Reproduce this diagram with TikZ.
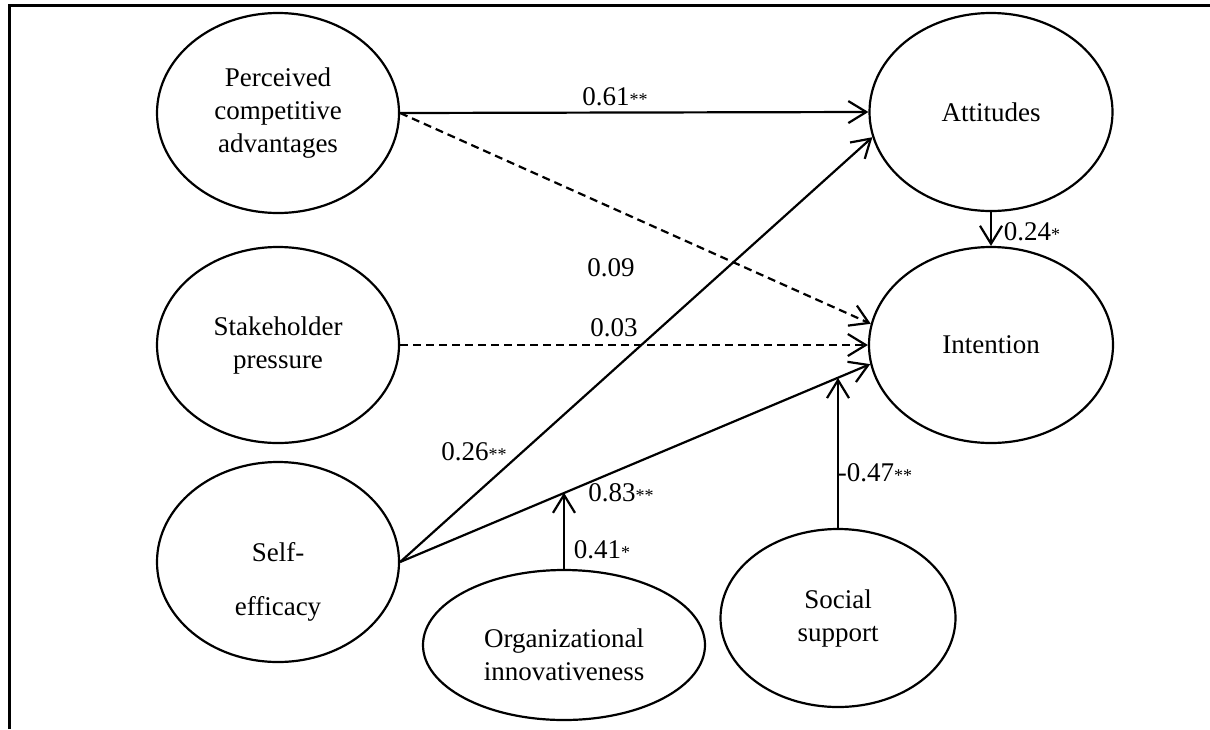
\documentclass[tikz,border=0pt]{standalone}
\usepackage{fontspec}
\setmainfont{Liberation Serif}
\usetikzlibrary{arrows.meta,shapes.geometric,calc}
\newcommand{\sig}[1]{{\fontsize{9}{9}\selectfont #1}}

\begin{document}
\begin{tikzpicture}[x=0.5pt,y=-0.5pt,font=\fontsize{13.5}{16.5}\selectfont]
      \tikzstyle{construct}=[ellipse,draw,line width=1.1pt,inner sep=0pt,align=center]
      \tikzstyle{path arrow}=[line width=1.1pt,-{Straight Barb[length=9pt,width=11pt]}]
      \tikzstyle{weak arrow}=[path arrow,dash pattern=on 4pt off 2.5pt]
      \tikzstyle{coef}=[inner sep=1pt]

      \useasboundingbox (0,0) rectangle (1210,729);
      \draw[line width=1.5pt] (9,729) -- (9,5) -- (1210,5);

      % constructs
      \node(pca)[construct,minimum width=121pt,minimum height=100pt] at (278,113) {Perceived\\competitive\\advantages};
      \node(sp)[construct,minimum width=121pt,minimum height=98pt] at (278,345) {Stakeholder\\pressure};
      \node(se)[construct,minimum width=121pt,minimum height=100pt,
          label={[align=center,yshift=-10pt]center:{Self-\\[10.5pt]efficacy}}] at (278,562) {};
      \node(att)[construct,minimum width=121.5pt,minimum height=99pt] at (991,112) {Attitudes};
      \node(int)[construct,minimum width=122pt,minimum height=98pt] at (991,345) {Intention};
      \node(oi)[construct,minimum width=141pt,minimum height=75pt,
          label={[align=center,yshift=-5pt]center:{Organizational\\innovativeness}}] at (564,645) {};
      \node(ss)[construct,minimum width=117.5pt,minimum height=89pt] at (838,618) {Social\\support};

      % paths
      \draw[path arrow] (pca.east) -- (att.west);
      \draw[weak arrow] (pca.east) -- (int.170);
      \draw[weak arrow] (sp.east) -- (int.west);
      \draw[path arrow] (se.east) -- (att.192);
      \draw[path arrow] (se.east) -- (int.189);
      \draw[path arrow] (att.south) -- (int.north);

      % moderators
      \coordinate (m1) at ($(se.east)!0.35!(int.189)$);
      \coordinate (m2) at ($(se.east)!0.93!(int.189)$);
      \draw[path arrow] (oi.north) -- (oi.north |- m1);
      \draw[path arrow] (ss.north) -- (ss.north |- m2);

      % coefficients
      \node(c1)[coef] at (615,97) {0.61\sig{**}};
      \node(c2)[coef] at (611,268) {0.09};
      \node(c3)[coef] at (614,328) {0.03};
      \node(c4)[coef] at (474,452) {0.26\sig{**}};
      \node(c5)[coef] at (621,493) {0.83\sig{**}};
      \node(c6)[coef] at (602,550) {0.41\sig{*}};
      \node(c7)[coef] at (875,473) {-0.47\sig{**}};
      \node(c8)[coef] at (1032,232) {0.24\sig{*}};
    \end{tikzpicture}
\end{document}
